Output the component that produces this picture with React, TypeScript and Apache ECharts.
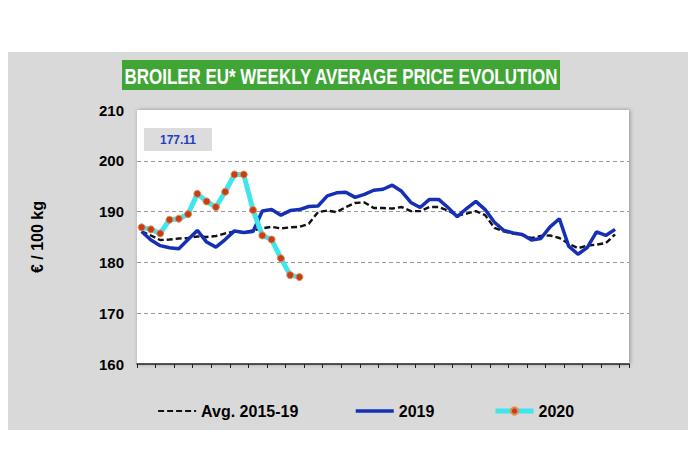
import React, { useEffect, useRef } from "react";
import * as echarts from "echarts";

const weeks = [
  "1", "2", "3", "4", "5", "6", "7", "8", "9", "10",
  "11", "12", "13", "14", "15", "16", "17", "18", "19", "20",
  "21", "22", "23", "24", "25", "26", "27", "28", "29", "30",
  "31", "32", "33", "34", "35", "36", "37", "38", "39", "40",
  "41", "42", "43", "44", "45", "46", "47", "48", "49", "50",
  "51", "52", "53",
];

const avg2015_19 = [
  186.1, 185.3, 184.4, 184.5, 184.7, 184.8, 185.1, 185.0, 185.2, 185.7,
  186.1, 185.9, 186.3, 186.7, 187.0, 186.7, 186.9, 187.0, 187.6, 189.9,
  190.2, 189.9, 190.9, 191.7, 191.8, 190.7, 190.7, 190.6, 190.9, 190.1,
  190.1, 190.9, 190.9, 190.2, 189.2, 189.6, 190.1, 189.3, 186.8, 186.1,
  185.7, 185.4, 184.8, 185.2, 185.3, 184.8, 183.7, 182.8, 183.3, 183.5,
  183.8, 185.5,
];

const y2019 = [
  186.1, 184.4, 183.3, 182.9, 182.7, 184.5, 186.3, 184.0, 183.0, 184.5,
  186.2, 185.9, 186.1, 190.1, 190.4, 189.3, 190.2, 190.4, 191.0, 191.1,
  193.1, 193.7, 193.8, 192.8, 193.4, 194.2, 194.4, 195.2, 194.0, 191.8,
  190.8, 192.4, 192.4, 190.8, 189.0, 190.6, 192.0, 190.4, 187.9, 186.3,
  185.8, 185.5, 184.4, 184.7, 187.0, 188.6, 183.2, 181.6, 182.9, 186.0,
  185.3, 186.5,
];

const y2020 = [
  186.9, 186.5, 185.7, 188.4, 188.6, 189.5, 193.5, 192.0, 190.9, 193.9,
  197.3, 197.3, 190.3, 185.3, 184.5, 180.8, 177.5, 177.11,
];

const yTicks = { min: 160, max: 210, interval: 10 };
const lastValueLabel = "177.11";
const titleText = "BROILER EU* WEEKLY AVERAGE PRICE EVOLUTION";
const yAxisName = "€ / 100 kg";

const FONT = "'Liberation Sans', Arial, sans-serif";

export default function App() {
  const ref = useRef<HTMLDivElement>(null);

  useEffect(() => {
    if (!ref.current) return;
    const chart = echarts.init(ref.current, undefined, { renderer: "svg" });
    const legendText = {
      fontSize: 16,
      fontWeight: "bold" as const,
      color: "#000",
      fontFamily: FONT,
      lineHeight: 18,
    };
    chart.setOption({
      animation: false,
      backgroundColor: "#fff",
      graphic: [
        {
          type: "rect",
          z: -10,
          shape: { x: 8, y: 52, width: 680, height: 378 },
          style: { fill: "#d9d9d9" },
          silent: true,
        },
        {
          type: "rect",
          z: 10,
          shape: { x: 122, y: 60, width: 438, height: 30 },
          style: { fill: "#3fa535" },
        },
        {
          type: "text",
          z: 11,
          x: 341,
          y: 76,
          scaleX: 0.77,
          style: {
            text: titleText,
            fill: "#fff",
            font: `bold 22px ${FONT}`,
            textAlign: "center",
            textVerticalAlign: "middle",
          },
        },
        {
          type: "rect",
          z: 10,
          shape: { x: 144, y: 128, width: 68, height: 23 },
          style: { fill: "#dcdcdc" },
        },
        {
          type: "text",
          z: 11,
          x: 178,
          y: 140,
          style: {
            text: lastValueLabel,
            fill: "#1f3fbf",
            font: `bold 12px ${FONT}`,
            textAlign: "center",
            textVerticalAlign: "middle",
          },
        },
      ],
      grid: {
        left: 137,
        right: 66,
        top: 110,
        bottom: 86,
        show: true,
        backgroundColor: "#fff",
        borderWidth: 0,
        shadowColor: "rgba(0,0,0,0.35)",
        shadowBlur: 4,
        shadowOffsetX: 1,
      },
      xAxis: {
        type: "category",
        data: weeks,
        boundaryGap: true,
        axisLine: { lineStyle: { color: "#222", width: 1.5 } },
        axisTick: { show: true, length: 4, lineStyle: { color: "#222" } },
        axisLabel: { show: false },
        splitLine: { show: false },
      },
      yAxis: {
        type: "value",
        min: yTicks.min,
        max: yTicks.max,
        interval: yTicks.interval,
        name: yAxisName,
        nameLocation: "middle",
        nameRotate: 90,
        nameGap: 92,
        nameTextStyle: {
          fontSize: 16,
          fontWeight: "bold",
          color: "#000",
          fontFamily: FONT,
        },
        axisLine: { show: false },
        axisTick: { show: false },
        axisLabel: {
          margin: 13,
          fontSize: 15,
          fontWeight: "bold",
          color: "#000",
          fontFamily: FONT,
        },
        splitLine: {
          show: true,
          lineStyle: {
            type: [4, 3],
            width: 1,
            color: ["transparent", "#9a9a9a", "#9a9a9a", "#9a9a9a", "#9a9a9a", "transparent"],
          },
        },
      },
      legend: [
        {
          data: ["Avg. 2015-19"],
          left: 152,
          top: 397,
          itemWidth: 38,
          itemHeight: 14,
          itemGap: 4,
          textStyle: legendText,
          lineStyle: { width: 2.2 },
          itemStyle: { color: "transparent", borderWidth: 0 },
        },
        {
          data: ["2019"],
          left: 349,
          top: 397,
          itemWidth: 38,
          itemHeight: 14,
          textStyle: legendText,
          lineStyle: { width: 3.5 },
          itemStyle: { color: "transparent", borderWidth: 0 },
        },
        {
          data: ["2020"],
          left: 488,
          top: 397,
          itemWidth: 38,
          itemHeight: 9,
          textStyle: legendText,
          lineStyle: { width: 5 },
        },
      ],
      series: [
        {
          name: "Avg. 2015-19",
          type: "line",
          data: avg2015_19,
          symbol: "none",
          z: 3,
          lineStyle: { color: "#111", width: 2.4, type: [6, 3] },
          itemStyle: { color: "#111" },
        },
        {
          name: "2019",
          type: "line",
          data: y2019,
          symbol: "none",
          z: 4,
          lineStyle: { color: "#1530b4", width: 3.5 },
          itemStyle: { color: "#1530b4" },
        },
        {
          name: "2020",
          type: "line",
          data: y2020,
          symbol: "circle",
          symbolSize: 7,
          showSymbol: true,
          showAllSymbol: true,
          z: 5,
          lineStyle: { color: "#3fe6ee", width: 5 },
          itemStyle: { color: "#c83c1e", borderColor: "#e0904a", borderWidth: 1 },
        },
      ],
    });
    return () => chart.dispose();
  }, []);

  return (
    <div
      ref={ref}
      style={{ position: "fixed", left: 0, top: 0, width: 695, height: 450 }}
    />
  );
}
